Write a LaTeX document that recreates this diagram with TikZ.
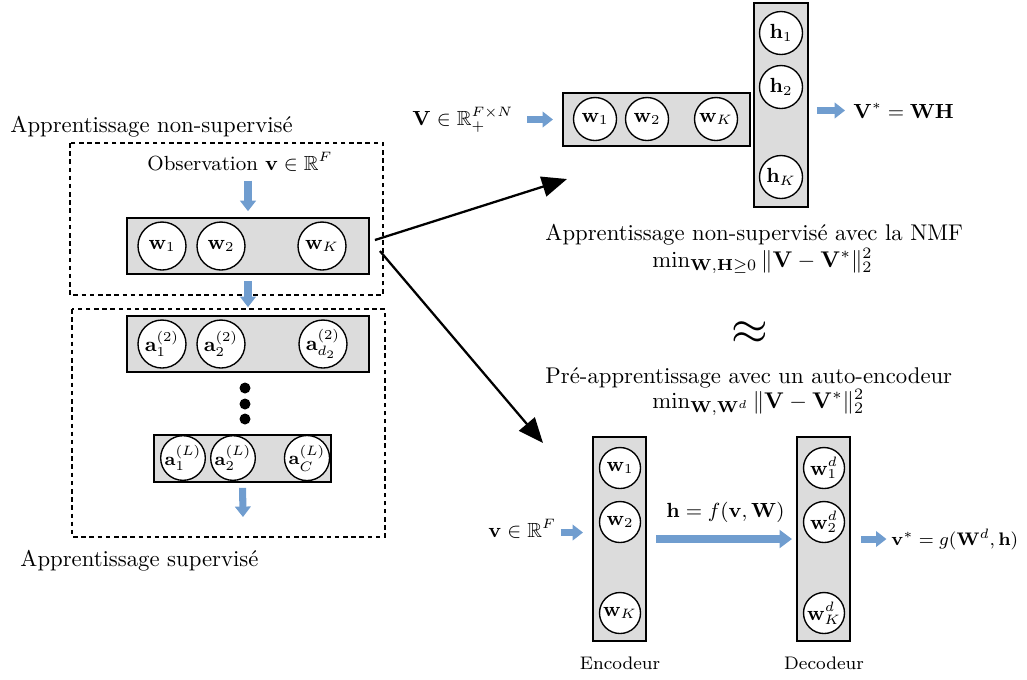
\documentclass[tikz,border=0pt]{standalone}
\usepackage{amsmath}
\usepackage{amssymb}
\usepackage{tikz}
\usetikzlibrary{arrows.meta}
\usetikzlibrary{positioning}
\definecolor{flowblue}{RGB}{112,157,207}
\definecolor{layergray}{RGB}{220,220,220}
\newcommand{\pxu}{0.44pt}
\tikzset{unit/.style = {draw, circle, fill=white, inner sep=0, line width=0.6pt, font=\small}}
\tikzset{layer/.style = {draw, fill=layergray, line width=0.8pt, inner sep=0}}
\tikzset{dashbox/.style = {line width=0.7pt, dash pattern=on 2pt off 1.6pt}}
\tikzset{flow/.style = {draw=flowblue, line width=3.1pt, -{Triangle[length=4.6pt, width=6.8pt, fill=flowblue]}}}
\tikzset{bigflow/.style = {draw=flowblue, line width=3.9pt, -{Triangle[length=5.5pt, width=7.8pt, fill=flowblue]}}}
\tikzset{link/.style = {line width=1pt, -{Triangle[length=11pt, width=9pt]}}}
\tikzset{lbl/.style = {inner sep=0, anchor=base west}}

\begin{document}
\begin{tikzpicture}[x=0.44pt, y=-0.44pt]
    \useasboundingbox (0,0) rectangle (1027,679);

    \draw[dashbox] (70,143) rectangle (383,295);
    \draw[dashbox] (72,309) rectangle (385,537);
    \node[lbl] (unsup) at (10,132) {Apprentissage non-supervis\'e};
    \node[lbl] (sup) at (20,566) {Apprentissage supervis\'e};
    \node[lbl, font=\small] (obs) at (147,170) {Observation $\mathbf{v}\in\mathbb{R}^F$};

    \node[layer, minimum width=242*\pxu, minimum height=56*\pxu] (layer1) at (248,246) {};
    \node[unit, minimum size=48*\pxu] (w1) at (162,246) {$\mathbf{w}_1$};
    \node[unit, minimum size=48*\pxu] (w2) at (221,246) {$\mathbf{w}_2$};
    \node[unit, minimum size=48*\pxu] (wK) at (322,246) {$\mathbf{w}_K$};

    \node[layer, minimum width=242*\pxu, minimum height=56*\pxu] (layer2) at (248,344) {};
    \node[unit, minimum size=48*\pxu] (a1) at (162,344) {$\mathbf{a}_1^{(2)}$};
    \node[unit, minimum size=48*\pxu] (a2) at (221,344) {$\mathbf{a}_2^{(2)}$};
    \node[unit, minimum size=48*\pxu] (ad) at (323,344) {$\mathbf{a}_{d_2}^{(2)}$};

    \fill (245,388) circle [radius=5.5];
    \fill (245,404) circle [radius=5.5];
    \fill (245,419) circle [radius=5.5];

    \node[layer, minimum width=177*\pxu, minimum height=47*\pxu] (layerL) at (242.5,458.5) {};
    \node[unit, minimum size=42*\pxu, font=\footnotesize] (aL1) at (183,458) {$\mathbf{a}_1^{(L)}$};
    \node[unit, minimum size=42*\pxu, font=\footnotesize] (aL2) at (233,458) {$\mathbf{a}_2^{(L)}$};
    \node[unit, minimum size=42*\pxu, font=\footnotesize] (aLC) at (307,458) {$\mathbf{a}_C^{(L)}$};
    \coordinate (clsout) at (243,517);

    \draw[flow, shorten <=4pt, shorten >=2.6pt] (layer1.north |- obs.south) -- (layer1.north);
    \draw[flow, shorten <=2.6pt, shorten >=3.5pt] (layer1.south) -- (layer2.north);
    \draw[flow, shorten <=2.2pt] (layerL.south) -- (clsout);

    \coordinate (nmfin) at (567,179);
    \coordinate (aein) at (543,443);
    \draw[link] ([shift={(5,-6)}]layer1.east) -- (nmfin);
    \draw[link] ([shift={(10,5)}]layer1.east) -- (aein);

    \node[lbl, font=\small] (Vin) at (412,125) {$\mathbf{V}\in\mathbb{R}_+^{F\times N}$};
    \node[layer, minimum width=187*\pxu, minimum height=53*\pxu] (Wnmf) at (656.5,119.5) {};
    \node[unit, minimum size=43*\pxu] (n1) at (595,119) {$\mathbf{w}_1$};
    \node[unit, minimum size=43*\pxu] (n2) at (647,119) {$\mathbf{w}_2$};
    \node[unit, minimum size=43*\pxu] (nK) at (716,119) {$\mathbf{w}_K$};
    \node[layer, minimum width=54*\pxu, minimum height=204*\pxu] (Hnmf) at (781,105) {};
    \node[unit, minimum size=43*\pxu] (h1) at (781,33) {$\mathbf{h}_1$};
    \node[unit, minimum size=43*\pxu] (h2) at (781,87) {$\mathbf{h}_2$};
    \node[unit, minimum size=43*\pxu] (hK) at (781,177) {$\mathbf{h}_K$};
    \node[lbl, font=\small] (Vout) at (853,118) {$\mathbf{V}^* = \mathbf{W}\mathbf{H}$};
    \draw[flow, shorten <=6pt, shorten >=4pt] (Vin.east |- Wnmf.west) -- (Wnmf.west);
    \draw[flow, shorten <=3.5pt, shorten >=3.5pt] (Hnmf.east |- Vout.west) -- (Vout.west);

    \node[lbl] (nmftxt) at (545,240) {Apprentissage non-supervis\'e avec la NMF};
    \node[lbl] (nmfobj) at (652,267) {$\min_{\mathbf{W},\mathbf{H}\geq 0}\|\mathbf{V}-\mathbf{V}^*\|_2^2$};
    \node[font=\huge] (approx) at (750,333) {$\approx$};
    \node[lbl] (aetxt) at (545,383) {Pr\'e-apprentissage avec un auto-encodeur};
    \node[lbl] (aeobj) at (652,408) {$\min_{\mathbf{W},\mathbf{W}^d}\|\mathbf{V}-\mathbf{V}^*\|_2^2$};

    \node[lbl, font=\small] (vin) at (488,537) {$\mathbf{v}\in\mathbb{R}^F$};
    \node[layer, minimum width=53*\pxu, minimum height=204*\pxu] (enc) at (619.5,539) {};
    \node[unit, minimum size=41*\pxu] (e1) at (620,468) {$\mathbf{w}_1$};
    \node[unit, minimum size=41*\pxu] (e2) at (620,522) {$\mathbf{w}_2$};
    \node[unit, minimum size=41*\pxu] (eK) at (620,613) {$\mathbf{w}_K$};
    \node[layer, minimum width=53*\pxu, minimum height=204*\pxu] (dec) at (823.5,539) {};
    \node[unit, minimum size=41*\pxu] (d1) at (824,468) {$\mathbf{w}_1^d$};
    \node[unit, minimum size=41*\pxu] (d2) at (824,522) {$\mathbf{w}_2^d$};
    \node[unit, minimum size=41*\pxu] (dK) at (824,613) {$\mathbf{w}_K^d$};
    \node[lbl, font=\small] (hcode) at (666,517) {$\mathbf{h} = f(\mathbf{v},\mathbf{W})$};
    \node[lbl, font=\fontsize{8.4}{10}\selectfont] (vout) at (891,545) {$\mathbf{v}^* = g(\mathbf{W}^d,\mathbf{h})$};
    \node[font=\footnotesize] (enclbl) at (620,663) {Encodeur};
    \node[font=\footnotesize] (declbl) at (824,663) {Decodeur};

    \draw[flow, shorten <=1.8pt, shorten >=4pt] ([shift={(0,4)}]vin.east) -- ([shift={(0,4)}]vin.east -| enc.west);
    \draw[bigflow, shorten <=4pt, shorten >=1.8pt] (enc.east) -- (dec.west);
    \draw[flow, shorten <=4.4pt, shorten >=2pt] (dec.east) -- (dec.east -| vout.west);
  \end{tikzpicture}
\end{document}
